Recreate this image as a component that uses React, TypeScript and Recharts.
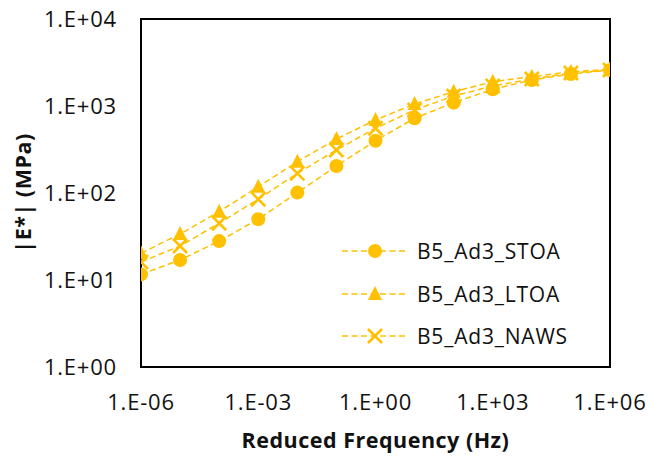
import React from 'react';
import { LineChart, Line, XAxis, YAxis, Legend, ReferenceArea } from 'recharts';

const FREQ = [1e-6, 1e-5, 1e-4, 1e-3, 1e-2, 1e-1, 1, 1e1, 1e2, 1e3, 1e4, 1e5, 1e6];
const STOA = [11.6, 17, 28, 50, 101, 204, 399, 723, 1092, 1556, 1990, 2333, 2593];
const LTOA = [20.3, 33.8, 61, 118, 229, 418, 690, 1055, 1459, 1900, 2174, 2478, 2642];
const NAWS = [16.1, 24.6, 44.9, 84.7, 168, 312, 555, 900, 1303, 1700, 2042, 2393, 2594];

const X_TICKS = [1e-6, 1e-3, 1, 1e3, 1e6];
const Y_TICKS = [1, 10, 100, 1000, 10000];

const SERIES = [
  { key: 'stoa', name: 'B5_Ad3_STOA', shape: 'circle' },
  { key: 'ltoa', name: 'B5_Ad3_LTOA', shape: 'triangle' },
  { key: 'naws', name: 'B5_Ad3_NAWS', shape: 'cross' },
];

const data = FREQ.map((f, i) => ({ f, stoa: STOA[i], ltoa: LTOA[i], naws: NAWS[i] }));

const GOLD = '#FFC000';
const FONT = '"Open Sans", "Noto Sans", sans-serif';

const fmt = (v: number) => {
  const e = Math.round(Math.log10(v));
  const a = Math.abs(e);
  return `1.E${e < 0 ? '-' : '+'}${a < 10 ? '0' + a : a}`;
};

const Marker = ({ cx, cy, shape }: { cx: number; cy: number; shape: string }) => {
  if (shape === 'circle') return <circle cx={cx} cy={cy} r={7} fill={GOLD} stroke="none" />;
  if (shape === 'triangle')
    return <polygon points={`${cx},${cy - 8} ${cx + 7},${cy + 6} ${cx - 7},${cy + 6}`} fill={GOLD} stroke="none" />;
  return (
    <g stroke={GOLD} strokeWidth={2.6}>
      <line x1={cx - 7} y1={cy - 7} x2={cx + 7} y2={cy + 7} />
      <line x1={cx - 7} y1={cy + 7} x2={cx + 7} y2={cy - 7} />
    </g>
  );
};

const makeDot = (shape: string) => (props: any) => {
  const { cx, cy, index } = props;
  if (cx == null || cy == null) return <g key={index} />;
  return <Marker key={index} cx={cx} cy={cy} shape={shape} />;
};

const renderLegend = () => (
  <div style={{ fontFamily: FONT, fontSize: 21, letterSpacing: 0.8, color: '#111' }}>
    {SERIES.map((s) => (
      <div key={s.key} style={{ display: 'flex', alignItems: 'center', height: 42.5 }}>
        <svg width={66} height={20} style={{ display: 'block' }}>
          <line x1={0} y1={10} x2={66} y2={10} stroke={GOLD} strokeWidth={1.5} strokeDasharray="6 3.5" />
          <Marker cx={33} cy={10} shape={s.shape} />
        </svg>
        <span style={{ marginLeft: 9, whiteSpace: 'nowrap' }}>{s.name}</span>
      </div>
    ))}
  </div>
);

export default function App() {
  return (
    <div style={{ fontFamily: FONT, width: 662, height: 460, margin: '-8px 0 0 -8px' }}>
      <LineChart width={662} height={460} data={data} margin={{ top: 19, right: 52, bottom: 0, left: 0 }}>
        <XAxis
          dataKey="f"
          type="number"
          scale="log"
          domain={[1e-6, 1e6]}
          ticks={X_TICKS}
          tickFormatter={fmt}
          allowDataOverflow
          height={93}
          axisLine={false}
          tickLine={false}
          tickSize={0}
          tickMargin={27}
          tick={{ fill: '#111', fontSize: 22, letterSpacing: 0.8 }}
          label={(p: any) => {
            const vb = p.viewBox;
            return (
              <text x={vb.x + vb.width / 2} y={vb.y + 81} textAnchor="middle" fontWeight="bold" fontSize={21.5} letterSpacing={0.5} fill="#111">
                Reduced Frequency (Hz)
              </text>
            );
          }}
        />
        <YAxis
          type="number"
          scale="log"
          domain={[1, 10000]}
          ticks={Y_TICKS}
          tickFormatter={fmt}
          allowDataOverflow
          width={141}
          axisLine={false}
          tickLine={false}
          tickSize={0}
          tickMargin={24}
          tick={{ fill: '#111', fontSize: 22, letterSpacing: 0.8 }}
          label={(p: any) => {
            const vb = p.viewBox;
            const x = vb.x + 22;
            const y = vb.y + vb.height / 2;
            return (
              <text x={x} y={y} transform={`rotate(-90 ${x} ${y})`} textAnchor="middle" dominantBaseline="central" fontWeight="bold" fontSize={21.5} letterSpacing={0.5} fill="#111">
                |E*| (MPa)
              </text>
            );
          }}
        />
        <ReferenceArea x1={1e-6} x2={1e6} y1={1} y2={10000} fill="none" fillOpacity={0} stroke="#000" strokeWidth={2} strokeOpacity={1} />
        {SERIES.map((s) => (
          <Line
            key={s.key}
            dataKey={s.key}
            name={s.name}
            type="linear"
            stroke={GOLD}
            strokeWidth={1.5}
            strokeDasharray="6 3.5"
            dot={makeDot(s.shape)}
            activeDot={false}
            isAnimationActive={false}
          />
        ))}
        <Legend
          layout="vertical"
          align="center"
          verticalAlign="middle"
          content={renderLegend}
          wrapperStyle={{ left: 342, top: 230, width: 'auto' }}
        />
      </LineChart>
    </div>
  );
}
